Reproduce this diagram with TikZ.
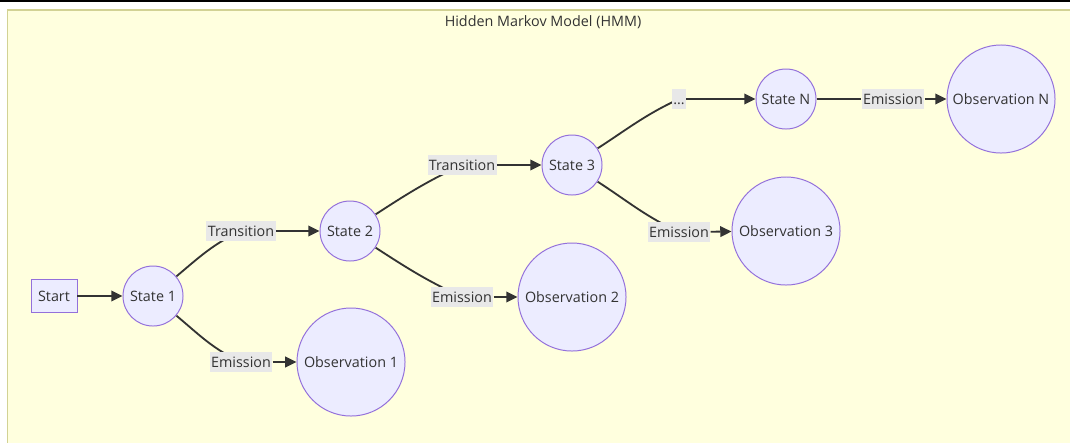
\documentclass[tikz,border=0pt]{standalone}
\usepackage{fontspec}
\setmainfont{Open Sans}
\usetikzlibrary{
  arrows.meta,
  backgrounds,
  positioning,
}
\definecolor{clusterfill}{HTML}{FFFFDE}
\definecolor{clusterline}{HTML}{D2D294}
\definecolor{statefill}{HTML}{ECECFF}
\definecolor{stateline}{HTML}{9370DB}
\definecolor{ink}{HTML}{333333}
\definecolor{labelfill}{HTML}{E8E8E8}
\tikzset{
  >={Triangle[length=8pt, width=7.5pt]},
  every node/.style={font=\fontsize{10.2}{12}\selectfont, text=ink},
  state/.style={circle, draw=stateline, fill=statefill, line width=0.7pt,
    inner sep=0pt, minimum size=1.5cm},
  obs/.style={state, minimum size=2.7cm},
  startbox/.style={rectangle, draw=stateline, fill=statefill, line width=0.7pt,
    minimum width=1.15cm, minimum height=0.825cm},
  lbl/.style={rectangle, fill=labelfill, inner xsep=1pt, inner ysep=0pt,
    minimum height=0.5cm, text height=7.5pt, text depth=0pt},
  edge/.style={draw=ink, line width=1.3pt},
}

\begin{document}
\begin{tikzpicture}[x=0.025cm, y=-0.025cm]
      \useasboundingbox (0, 0) rectangle (1070, 443);
      \node (title) at (543, 22) {Hidden Markov Model (HMM)};

      \node [startbox] (start) at (54, 296) {Start};
      \node [state] (s1) at (153, 296) {State 1};
      \node [state] (s2) at (350, 231) {State 2};
      \node [state] (s3) at (572, 165) {State 3};
      \node [state] (sn) at (786, 99) {State N};
      \node [obs] (o1) at (351, 362) {Observation 1};
      \node [obs] (o2) at (572, 297) {Observation 2};
      \node [obs] (o3) at (786, 231) {Observation 3};
      \node [obs] (on) at (1001, 99) {Observation N};

      \node [lbl] (t12) at (241, 231) {Transition};
      \node [lbl] (e1) at (241, 362) {Emission};
      \node [lbl] (t23) at (462, 165) {Transition};
      \node [lbl] (e2) at (462, 297) {Emission};
      \node [lbl] (t3n) at (679, 99) {...};
      \node [lbl] (e3) at (679, 232) {Emission};
      \node [lbl] (en) at (893, 99) {Emission};

      \begin{scope}[on background layer]
        \fill [white] (0, 0) rectangle (1070, 443);
        \draw [black, line width=1.5pt] (0, 0.8) -- (1070, 0.8);
        \fill [clusterfill] (7.5, 10) rectangle (1070, 443);
        \draw [clusterline, line width=1.2pt] (1070, 10) -- (7.5, 10) -- (7.5, 443);
        \draw [edge] (s1) to [out=40, in=205] (t12.center);
        \draw [edge] (s1) to [out=-40, in=155] (e1.center);
        \draw [edge] (s2) to [out=33, in=205] (t23.center);
        \draw [edge] (s2) to [out=-33, in=155] (e2.center);
        \draw [edge] (s3) to [out=33, in=205] (t3n.center);
        \draw [edge] (s3) to [out=-33, in=155] (e3.center);
        \draw [edge] (sn) -- (en);
      \end{scope}

      \draw [edge, ->] (start) -- (s1);
      \draw [edge, ->] (t12) -- (s2);
      \draw [edge, ->] (e1) -- (o1);
      \draw [edge, ->] (t23) -- (s3);
      \draw [edge, ->] (e2) -- (o2);
      \draw [edge, ->] (t3n) -- (sn);
      \draw [edge, ->] (e3) -- (o3);
      \draw [edge, ->] (en) -- (on);
    \end{tikzpicture}
\end{document}
